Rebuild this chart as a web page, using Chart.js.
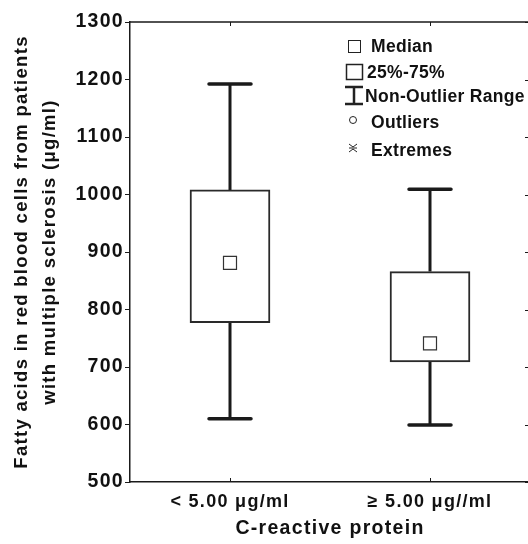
<!DOCTYPE html>
<html>
<head>
    <title>C-reactive protein box plot</title>
    <script src="https://cdn.jsdelivr.net/npm/chart.js"></script>
    <style>
        html, body { margin: 0; padding: 0; overflow: hidden; background: #fff; }
        #myChart { display: block; }
    </style>
</head>
<body>
<canvas id="myChart" width="532" height="544"></canvas>
<script>
    // box plot values
    const categories = ['< 5.00 \u03bcg/ml', '\u2265 5.00 \u03bcg//ml'];
    const whiskerLow = [610, 599];
    const q1 = [777, 709];
    const median = [881, 741];
    const q3 = [1008, 866];
    const whiskerHigh = [1192, 1009];
    const yMin = 500;
    const yMax = 1300;
    const yStep = 100;

    const ink = '#1a1a1a';
    const fontFamily = '"Liberation Sans", Arial, Helvetica, sans-serif';
    Chart.defaults.font.family = fontFamily;
    Chart.defaults.color = '#111';

    // whiskers, frame and the little inward ticks
    const boxExtras = {
        id: 'boxExtras',
        beforeDraw(chart) {
            chart.ctx.letterSpacing = '1.3px';
        },
        beforeDatasetsDraw(chart) {
            const ctx = chart.ctx;
            const x = chart.scales.x;
            const y = chart.scales.y;
            ctx.save();
            ctx.strokeStyle = ink;
            for (let i = 0; i < categories.length; i++) {
                const cx = x.getPixelForValue(i);
                const yl = y.getPixelForValue(whiskerLow[i]);
                const yh = y.getPixelForValue(whiskerHigh[i]);
                ctx.lineWidth = 3;
                ctx.beginPath();
                ctx.moveTo(cx, yl);
                ctx.lineTo(cx, y.getPixelForValue(q1[i]));
                ctx.moveTo(cx, yh);
                ctx.lineTo(cx, y.getPixelForValue(q3[i]));
                ctx.stroke();
                ctx.lineWidth = 3.5;
                ctx.lineCap = 'round';
                ctx.beginPath();
                ctx.moveTo(cx - 21, yl);
                ctx.lineTo(cx + 21, yl);
                ctx.moveTo(cx - 21, yh);
                ctx.lineTo(cx + 21, yh);
                ctx.stroke();
                ctx.lineCap = 'butt';
            }
            ctx.restore();
        },
        afterDraw(chart) {
            const ctx = chart.ctx;
            const area = chart.chartArea;
            const x = chart.scales.x;
            const y = chart.scales.y;
            ctx.save();
            ctx.letterSpacing = '0px';
            ctx.strokeStyle = ink;
            ctx.lineWidth = 1.5;
            ctx.beginPath();
            ctx.moveTo(area.left, area.top);
            ctx.lineTo(area.right, area.top);
            ctx.lineTo(area.right, area.bottom);
            ctx.stroke();
            ctx.lineWidth = 1;
            ctx.beginPath();
            for (let i = 0; i < categories.length; i++) {
                const cx = Math.round(x.getPixelForValue(i)) + 0.5;
                ctx.moveTo(cx, area.bottom);
                ctx.lineTo(cx, area.bottom - 4);
                ctx.moveTo(cx, area.top);
                ctx.lineTo(cx, area.top + 4);
            }
            for (let v = yMin; v <= yMax; v += yStep) {
                const py = Math.round(y.getPixelForValue(v)) + 0.5;
                ctx.moveTo(area.right, py);
                ctx.lineTo(area.right - 5, py);
            }
            ctx.stroke();

            // legend
            const lx = area.right - 182;
            const ly = area.top;
            ctx.fillStyle = '#111';
            ctx.font = 'bold 17.5px ' + fontFamily;
            ctx.textBaseline = 'middle';
            ctx.letterSpacing = '0.3px';
            ctx.strokeStyle = '#222';
            ctx.lineWidth = 1;
            ctx.strokeRect(lx + 0.5, ly + 18.5, 12, 12);
            ctx.fillText('Median', lx + 23, ly + 25);
            ctx.lineWidth = 1.5;
            ctx.strokeRect(lx - 1.5, ly + 42.5, 16, 15);
            ctx.fillText('25%-75%', lx + 19, ly + 51);
            ctx.lineWidth = 2.5;
            ctx.beginPath();
            ctx.moveTo(lx + 6, ly + 64);
            ctx.lineTo(lx + 6, ly + 83);
            ctx.moveTo(lx - 3, ly + 65);
            ctx.lineTo(lx + 15, ly + 65);
            ctx.moveTo(lx - 3, ly + 82);
            ctx.lineTo(lx + 15, ly + 82);
            ctx.stroke();
            ctx.fillText('Non-Outlier Range', lx + 17, ly + 75);
            ctx.lineWidth = 1;
            ctx.beginPath();
            ctx.arc(lx + 5, ly + 98, 3.5, 0, Math.PI * 2);
            ctx.stroke();
            ctx.fillText('Outliers', lx + 23, ly + 101);
            ctx.beginPath();
            const ex = lx + 5, ey = ly + 126;
            ctx.moveTo(ex - 4, ey - 4);
            ctx.lineTo(ex, ey - 1);
            ctx.lineTo(ex + 4, ey - 4);
            ctx.moveTo(ex - 4, ey);
            ctx.lineTo(ex + 4, ey);
            ctx.moveTo(ex - 4, ey + 4);
            ctx.lineTo(ex, ey + 1);
            ctx.lineTo(ex + 4, ey + 4);
            ctx.stroke();
            ctx.fillText('Extremes', lx + 23, ly + 129);
            ctx.restore();
        }
    };

    const ctx = document.getElementById('myChart').getContext('2d');
    const myChart = new Chart(ctx, {
        type: 'bar',
        data: {
            labels: categories,
            datasets: [
                {
                    type: 'line',
                    label: 'Median',
                    data: median,
                    showLine: false,
                    pointStyle: 'rect',
                    pointRadius: 9.2,
                    pointBackgroundColor: '#fff',
                    pointBorderColor: '#333',
                    pointBorderWidth: 1.2,
                    order: 0,
                },
                {
                    label: '25%-75%',
                    data: q1.map((v, i) => [v, q3[i]]),
                    backgroundColor: '#fff',
                    borderColor: '#2a2a2a',
                    borderWidth: 2,
                    borderSkipped: false,
                    barThickness: 80,
                    order: 1,
                },
            ],
        },
        options: {
            responsive: false,
            animation: false,
            devicePixelRatio: 1,
            layout: {
                autoPadding: false,
                padding: { left: 0, top: 22, right: 2, bottom: 0 },
            },
            plugins: {
                legend: { display: false },
                tooltip: { enabled: false },
            },
            scales: {
                x: {
                    type: 'category',
                    offset: true,
                    grid: { display: false, drawTicks: false, tickLength: 0 },
                    border: { display: true, color: ink, width: 1.5 },
                    ticks: {
                        color: '#111',
                        padding: 9,
                        maxRotation: 0,
                        font: { size: 18, weight: 'bold' },
                    },
                    title: {
                        display: true,
                        text: 'C-reactive protein',
                        color: '#111',
                        padding: { top: 0, bottom: 4 },
                        font: { size: 19.5, weight: 'bold' },
                    },
                    afterFit(scale) { scale.height = 62; },
                },
                y: {
                    min: yMin,
                    max: yMax,
                    grid: { drawOnChartArea: false, drawTicks: true, tickLength: 5, color: ink },
                    border: { display: true, color: ink, width: 1.5 },
                    ticks: {
                        stepSize: yStep,
                        color: '#111',
                        padding: 1,
                        font: { size: 19.5, weight: 'bold' },
                        callback: (value) => String(value),
                    },
                    title: {
                        display: true,
                        text: ['Fatty acids in red blood cells from patients', 'with multiple sclerosis (\u03bcg/ml)'],
                        color: '#111',
                        padding: { top: 8, bottom: 0 },
                        font: { size: 18.5, weight: 'bold', lineHeight: 1.5 },
                    },
                    afterFit(scale) { scale.width = 130; },
                },
            },
        },
        plugins: [boxExtras],
    });
</script>
</body>
</html>
